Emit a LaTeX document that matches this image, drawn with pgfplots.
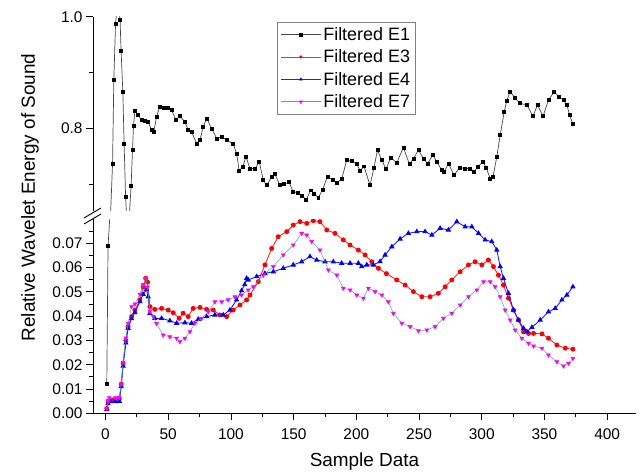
\documentclass[border=0pt]{standalone}
\usepackage{fontspec}
\setmainfont{Liberation Sans}
\usepackage{pgfplots}
\pgfplotsset{compat=1.18}
\definecolor{eoneline}{RGB}{70,70,70}
\definecolor{ethreeline}{RGB}{255,40,40}
\definecolor{efourline}{RGB}{30,30,255}
\definecolor{esevenline}{RGB}{70,170,170}
\definecolor{magen}{RGB}{255,0,255}

\pgfplotsset{
  brk/.style={
    scale only axis, width=543bp,
    xmin=-10, xmax=423,
    tick align=outside,
    major tick length=7bp, minor tick length=4bp,
    every tick/.style={black, line width=0.8pt},
    axis line style={line width=0.9pt, -},
    every outer x axis line/.append style={-},
    every outer y axis line/.append style={-},
    tick label style={font=\fontsize{15.5}{18}\selectfont},
    /pgf/number format/assume math mode=true,
    scaled y ticks=false, scaled x ticks=false,
    clip marker paths=true,
  },
  lg/.style={legend image code/.code={%
    \draw[mark repeat=2,mark phase=2,##1] plot coordinates {(0bp,0bp) (20bp,0bp) (40bp,0bp)};}},
  sE1/.style={eoneline, line width=0.7pt, mark=square*, mark size=1.5pt, mark options={black, solid}},
  sE3/.style={ethreeline, line width=0.9pt, mark=*, mark size=2pt, mark options={red, draw=red}},
  sE4/.style={efourline, line width=0.9pt, mark=triangle*, mark size=2.3pt, mark options={blue, draw=blue}},
  sE7/.style={esevenline, line width=0.5pt, mark=triangle*, mark size=2.3pt, mark options={magen, draw=magen, rotate=180}},
}

\begin{document}
\begin{tikzpicture}
\path[use as bounding box] (-93bp,-62.7bp) rectangle (548bp,413.3bp);

% ---------------- lower part ----------------
\begin{axis}[brk, at={(0,0)}, anchor=south west, height=194.3bp,
  ymin=0, ymax=0.08,
  axis x line*=bottom, axis y line*=left,
  xtick={0,50,100,150,200,250,300,350,400},
  minor xtick={25,75,125,175,225,275,325,375},
  ytick={0,0.01,0.02,0.03,0.04,0.05,0.06,0.07},
  minor ytick={0.005,0.015,0.025,0.035,0.045,0.055,0.065,0.075},
  yticklabel style={/pgf/number format/fixed, /pgf/number format/fixed zerofill, /pgf/number format/precision=2},
  xticklabel style={yshift=-5bp},
  xlabel={Sample Data},
  xlabel style={font=\fontsize{19}{22}\selectfont, yshift=-6bp},
]
% E1 (lower part)
\addplot[sE1] table {
x y
1 0.012
2 0.069
6 0.1024
};
% E3
\addplot[sE3] table {
x y
1 0.002
2 0.005
6 0.0055
11 0.006
12.5 0.012
14 0.0206
16.2 0.030
18 0.0357
20.7 0.0398
23.4 0.0425
27.4 0.0467
30 0.052
32 0.0556
33.5 0.054
35.4 0.0439
39.3 0.0428
44.7 0.0432
50 0.0425
54 0.0414
58.7 0.0391
61.9 0.0412
65.9 0.0398
69.9 0.0432
75.3 0.0436
80.6 0.0428
85.9 0.0425
91.2 0.0405
96.6 0.0398
101.8 0.0425
107.2 0.0446
112.5 0.0467
115.2 0.0487
121.8 0.0542
127.1 0.0611
132.5 0.0679
137.7 0.0727
144.5 0.0748
149.7 0.0775
155.1 0.0789
160.4 0.0782
165.7 0.0793
171 0.0789
176.4 0.0755
183 0.0741
189.6 0.0714
195 0.0693
201.6 0.0672
207 0.0652
212.3 0.0624
217.6 0.0597
224 0.0575
232.2 0.0549
238.9 0.0528
245.5 0.0501
252.2 0.048
258.8 0.048
265.4 0.0494
270.8 0.0521
276.1 0.0549
282.8 0.0583
289.4 0.0611
294.7 0.0624
300.1 0.0611
305.3 0.0631
309.3 0.0604
313.3 0.0569
317.3 0.0528
321.3 0.0474
325.3 0.0425
329.3 0.0384
333.3 0.0335
337.3 0.0329
341.3 0.0329
348 0.0327
353.2 0.0309
359.9 0.0281
366.6 0.0268
372.7 0.0264
};
% E4
\addplot[sE4] table {
x y
1 0.0016
2 0.004
4 0.0048
8 0.0048
11 0.005
12.5 0.011
14 0.0195
16.2 0.029
18 0.0350
20.7 0.0390
23.4 0.0415
27.4 0.046
30 0.049
32.7 0.051
34 0.048
35.4 0.0412
39.3 0.0391
44.7 0.0391
51.3 0.0381
56.7 0.0371
63.3 0.0373
68.6 0.0371
73.9 0.0387
80.6 0.0398
87.2 0.0405
93.9 0.0405
99.2 0.0425
104.5 0.0467
108.5 0.0505
111 0.053
112.5 0.0556
113.8 0.0549
120.5 0.0563
127.1 0.0576
133.8 0.0583
141.7 0.0597
149.7 0.0611
156.4 0.0624
163 0.0645
168.4 0.0631
175 0.0624
181.6 0.0624
188.3 0.0618
195 0.0618
201.6 0.0618
204.3 0.0604
208.3 0.0611
213.6 0.0611
218.9 0.0625
222.9 0.0652
228.3 0.0686
234.9 0.0718
241.5 0.0741
248.2 0.0748
254.8 0.0748
260.2 0.0734
266.8 0.0762
273.4 0.0755
280.1 0.0789
286.8 0.0768
292.1 0.0768
297.4 0.0741
302.7 0.0714
308 0.0707
312 0.0672
314.7 0.0604
317.3 0.0556
321.3 0.0494
325.3 0.0425
329.3 0.0384
333.3 0.035
336 0.0336
340 0.0354
346.6 0.0384
353.2 0.0418
358.6 0.0432
363.9 0.0467
367.9 0.0487
372.7 0.0521
};
% E7
\addplot[sE7] table {
x y
1 0.002
2 0.005
3 0.0064
8 0.0064
11 0.0066
12.5 0.012
14 0.021
16.2 0.031
18 0.037
20.7 0.0439
23.4 0.045
27.4 0.049
30 0.053
32 0.0556
33.5 0.052
35.4 0.042
38 0.040
40.7 0.037
46 0.0322
51.3 0.0315
56.7 0.0309
59.3 0.0295
63.3 0.0309
67.3 0.0336
71.3 0.0371
76.6 0.0391
81.9 0.0418
87.2 0.0459
92.6 0.0459
97.8 0.0467
103.2 0.048
108.5 0.0487
113.8 0.0508
117.8 0.0521
125.8 0.0569
133.8 0.0604
141.7 0.0652
149.7 0.0693
156.4 0.0741
160.4 0.0734
164.4 0.0707
171 0.0672
177.7 0.059
184.4 0.0569
189.6 0.0515
195 0.0508
200.3 0.0487
205.6 0.0474
209.6 0.0515
214.9 0.0501
220.3 0.0487
225.5 0.0459
229.5 0.0412
236.2 0.0371
242.9 0.0357
249.5 0.034
256.2 0.0343
262.8 0.0357
269.4 0.0391
276.1 0.0412
282.8 0.0446
289.4 0.048
296.1 0.0508
301.4 0.0542
306.7 0.0542
310.7 0.0521
314.7 0.048
318.7 0.0425
322.7 0.0384
326.7 0.0343
332 0.0309
337.3 0.0288
341.3 0.0277
348 0.0268
353.2 0.024
359.9 0.0212
365.2 0.0195
369.2 0.0206
372.7 0.0226
};
\end{axis}

% ---------------- upper part ----------------
\begin{axis}[brk, lg, at={(0,202.3bp)}, anchor=south west, height=194.2bp,
  ymin=0.652, ymax=1.0,
  hide x axis, axis y line*=left,
  ytick={0.8,1.0}, minor ytick={0.7,0.9},
  yticklabel style={/pgf/number format/fixed, /pgf/number format/fixed zerofill, /pgf/number format/precision=1},
  legend style={at={(0.339,0.974)}, anchor=north west, draw=gray, line width=0.7pt,
    font=\fontsize{18}{20}\selectfont, inner xsep=3bp, inner ysep=3bp, row sep=4bp,
    cells={anchor=west}},
]
\addplot[sE1] table {
x y
3 0.59
5.6 0.737
6.6 0.887
8.0 0.988
9.8 1.03
11.6 0.994
12.4 0.939
13.8 0.866
14.8 0.773
16.0 0.677
17.8 0.60
20.4 0.697
21.5 0.761
22.3 0.804
23.4 0.831
26 0.824
28.7 0.815
31.4 0.814
34 0.812
36.7 0.797
38.5 0.794
40.7 0.821
43.3 0.839
46.5 0.836
50 0.837
52.7 0.833
56.1 0.815
59.3 0.822
63.3 0.812
65.9 0.797
68.6 0.794
72.6 0.773
75.3 0.779
77.9 0.803
80.6 0.818
84.6 0.800
88.6 0.782
92.6 0.785
96.6 0.779
101.9 0.772
104.5 0.755
106.6 0.724
109.3 0.731
112 0.749
115.2 0.728
119.2 0.728
122.6 0.740
125.8 0.707
128.5 0.698
132.5 0.713
135.1 0.718
139.1 0.698
142.5 0.700
146.3 0.704
149.7 0.686
153.7 0.685
156.4 0.680
160 0.672
163.5 0.689
166.5 0.683
169.7 0.676
173 0.690
177 0.714
181 0.708
184.4 0.702
188.4 0.710
192.3 0.743
196.3 0.741
200.3 0.737
203 0.724
206.1 0.732
210.9 0.698
214.1 0.730
216.8 0.761
220.3 0.743
223.7 0.727
227.5 0.748
232.2 0.738
237.5 0.766
242.3 0.736
245.5 0.746
249.5 0.761
253.5 0.746
256.7 0.737
261 0.752
264.2 0.740
268.2 0.725
270 0.722
273.4 0.737
278 0.716
282.2 0.730
286.8 0.728
290.7 0.728
293.9 0.722
296.6 0.731
300.9 0.740
303.5 0.730
306.7 0.710
308.9 0.713
312 0.749
314.7 0.788
317.9 0.830
320 0.850
322.7 0.866
326.7 0.854
330.6 0.845
336 0.842
340.8 0.822
344.5 0.842
348.8 0.822
353.3 0.851
357.8 0.866
361.2 0.857
365.2 0.851
367.9 0.842
370 0.824
372.7 0.808
};
\addlegendentry{Filtered E1}
\addlegendimage{sE3, mark size=1.3pt, line width=0.6pt}
\addlegendentry{Filtered E3}
\addlegendimage{sE4, mark size=1.5pt, line width=0.6pt}
\addlegendentry{Filtered E4}
\addlegendimage{sE7, mark size=1.5pt, line width=0.9pt}
\addlegendentry{Filtered E7}
\end{axis}

% axis break marks and y label
\draw[line width=0.9pt] (-9bp,195.3bp) -- (8bp,205.3bp);
\draw[line width=0.9pt] (-9bp,189.3bp) -- (8bp,199.3bp);
\node[rotate=90, font=\fontsize{19}{22}\selectfont] at (-63bp,215.8bp) {Relative Wavelet Energy of Sound};
\end{tikzpicture}
\end{document}
